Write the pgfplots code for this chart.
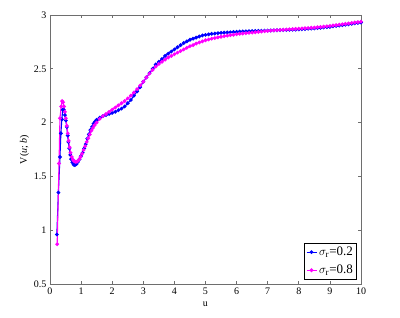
\documentclass[border=0pt]{standalone}
\usepackage{pgfplots}
\pgfplotsset{compat=1.18}
\usepackage{fontspec}
\setmainfont{Liberation Serif}
\definecolor{axgray}{RGB}{110,110,110}
\definecolor{mblue}{RGB}{0,0,255}
\definecolor{mmag}{RGB}{255,0,255}
\begin{document}
\begin{tikzpicture}
\useasboundingbox (-50pt,-34pt) rectangle (350pt,284pt);
\begin{axis}[
  scale only axis, width=311pt, height=269pt,
  xmin=0, xmax=10, ymin=0.5, ymax=3,
  xtick={0,1,...,10}, ytick={0.5,1,1.5,2,2.5,3},
  yticklabels={0.5,1,1.5,2,2.5,3},
  tick align=inside, tick pos=both,
  major tick length=3pt,
  axis line style={axgray, line width=0.8pt},
  tick style={axgray, line width=0.6pt},
  /pgf/number format/assume math mode=true,
  tick label style={font=\fontsize{10}{12}\selectfont},
  xlabel={u}, ylabel={V(\textit{u}; \textit{b})},
  label style={font=\fontsize{10}{12}\selectfont},
  xlabel style={yshift=-1pt},
  ylabel style={yshift=-2pt},
  legend style={at={(0.986,0.018)}, anchor=south east, draw=black, line width=0.6pt,
    font=\fontsize{13}{14}\selectfont, inner sep=1.5pt, row sep=4pt,
    legend cell align=left},
  legend image code/.code={\draw[#1] (0pt,0pt) -- (10pt,0pt); \draw[#1,only marks] plot coordinates {(5pt,0pt)};},
]
\addplot[mblue, line width=1.1pt, mark=*, mark size=1.3pt] coordinates {
(0.22,0.96)(0.27,1.35)(0.32,1.68)(0.35,1.90)(0.38,2.03)(0.41,2.12)(0.44,2.12)(0.48,2.07)
(0.51,2.02)(0.54,1.96)(0.57,1.88)(0.59,1.82)(0.62,1.76)(0.65,1.70)(0.68,1.66)(0.72,1.63)
(0.76,1.61)(0.80,1.605)(0.85,1.615)(0.90,1.635)(0.95,1.66)(1.0,1.69)(1.05,1.72)(1.1,1.76)
(1.15,1.80)(1.2,1.85)(1.25,1.89)(1.3,1.93)(1.35,1.96)(1.4,1.99)(1.45,2.01)
(1.5,2.025)(1.6,2.045)(1.7,2.06)(1.8,2.07)(1.9,2.08)(2.0,2.09)
(2.1,2.10)(2.2,2.115)(2.3,2.13)(2.4,2.15)(2.5,2.18)(2.6,2.21)(2.7,2.25)(2.8,2.29)(2.9,2.33)(3.0,2.38)
(3.1,2.42)(3.2,2.46)(3.3,2.50)(3.4,2.54)(3.5,2.565)(3.6,2.59)(3.7,2.62)(3.8,2.64)(3.9,2.66)(4.0,2.68)
(4.1,2.70)(4.2,2.72)(4.3,2.74)(4.4,2.755)(4.5,2.77)(4.6,2.78)(4.7,2.79)(4.8,2.80)(4.9,2.81)(5.0,2.815)
(5.1,2.82)(5.2,2.825)(5.3,2.828)(5.4,2.831)(5.5,2.834)(5.6,2.836)(5.7,2.838)(5.8,2.84)(5.9,2.842)(6.0,2.844)
(6.1,2.846)(6.2,2.847)(6.3,2.848)(6.4,2.849)(6.5,2.850)(6.6,2.851)(6.7,2.852)(6.8,2.853)(6.9,2.854)(7.0,2.855)
(7.1,2.856)(7.2,2.857)(7.3,2.858)(7.4,2.859)(7.5,2.860)(7.6,2.861)(7.7,2.862)(7.8,2.863)(7.9,2.864)(8.0,2.866)
(8.1,2.868)(8.2,2.870)(8.3,2.872)(8.4,2.874)(8.5,2.876)(8.6,2.878)(8.7,2.881)(8.8,2.884)(8.9,2.887)(9.0,2.890)
(9.1,2.894)(9.2,2.898)(9.3,2.902)(9.4,2.906)(9.5,2.910)(9.6,2.914)(9.7,2.918)(9.8,2.922)(9.9,2.926)(10.0,2.930)
};
\addlegendentry{$\sigma_{\mathrm{r}}$=0.2}
\addplot[mmag, line width=1.1pt, mark=*, mark size=1.3pt] coordinates {
(0.23,0.87)(0.29,1.62)(0.32,2.04)(0.36,2.15)(0.39,2.20)(0.42,2.19)(0.45,2.15)(0.48,2.10)
(0.51,2.04)(0.54,1.97)(0.57,1.90)(0.60,1.83)(0.63,1.77)(0.66,1.72)(0.70,1.68)(0.74,1.655)
(0.78,1.64)(0.83,1.635)(0.88,1.64)(0.93,1.655)(0.98,1.68)(1.03,1.71)(1.08,1.745)(1.13,1.78)
(1.18,1.82)(1.23,1.855)(1.28,1.89)(1.33,1.925)(1.38,1.95)(1.43,1.975)
(1.5,2.00)(1.6,2.035)(1.7,2.06)(1.8,2.08)(1.9,2.10)(2.0,2.12)
(2.1,2.14)(2.2,2.16)(2.3,2.18)(2.4,2.20)(2.5,2.225)(2.6,2.25)(2.7,2.28)(2.8,2.31)(2.9,2.345)(3.0,2.38)
(3.1,2.42)(3.2,2.455)(3.3,2.49)(3.4,2.52)(3.5,2.545)(3.6,2.565)(3.7,2.585)(3.8,2.605)(3.9,2.62)(4.0,2.635)
(4.1,2.65)(4.2,2.665)(4.3,2.68)(4.4,2.695)(4.5,2.71)(4.6,2.72)(4.7,2.735)(4.8,2.745)(4.9,2.755)(5.0,2.765)
(5.1,2.772)(5.2,2.78)(5.3,2.786)(5.4,2.792)(5.5,2.798)(5.6,2.803)(5.7,2.808)(5.8,2.813)(5.9,2.817)(6.0,2.821)
(6.1,2.825)(6.2,2.828)(6.3,2.831)(6.4,2.834)(6.5,2.837)(6.6,2.840)(6.7,2.843)(6.8,2.846)(6.9,2.849)(7.0,2.852)
(7.1,2.855)(7.2,2.857)(7.3,2.859)(7.4,2.861)(7.5,2.863)(7.6,2.865)(7.7,2.867)(7.8,2.869)(7.9,2.871)(8.0,2.873)
(8.1,2.875)(8.2,2.877)(8.3,2.879)(8.4,2.881)(8.5,2.883)(8.6,2.886)(8.7,2.889)(8.8,2.892)(8.9,2.895)(9.0,2.898)
(9.1,2.902)(9.2,2.906)(9.3,2.910)(9.4,2.914)(9.5,2.918)(9.6,2.922)(9.7,2.926)(9.8,2.930)(9.9,2.934)(10.0,2.938)
};
\addlegendentry{$\sigma_{\mathrm{r}}$=0.8}
\end{axis}
\end{tikzpicture}
\end{document}
